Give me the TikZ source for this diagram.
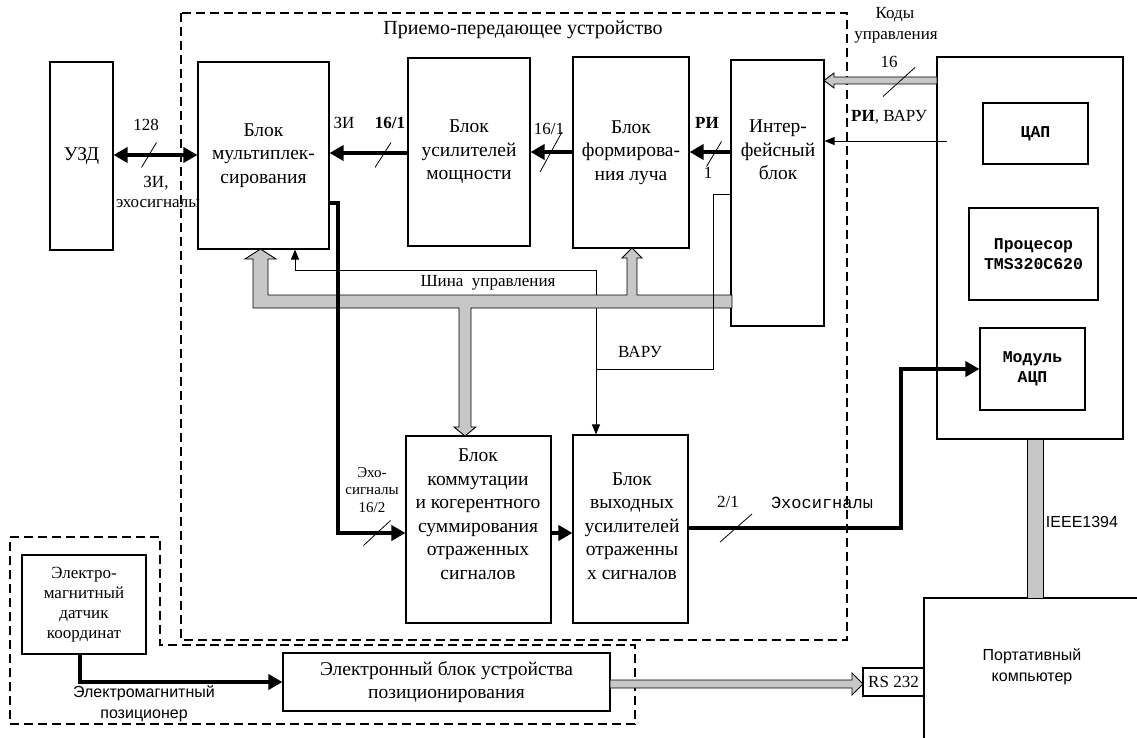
\documentclass[tikz,border=0pt]{standalone}
\usepackage{fontspec}
\setmainfont{Liberation Serif}
\setsansfont{Liberation Sans}
\setmonofont{Liberation Mono}
\usetikzlibrary{arrows.meta,calc}
\newcommand\fBig{\fontsize{19.5}{23.5}\selectfont}
\newcommand\fMid{\fontsize{17}{20}\selectfont}
\newcommand\fLab{\fontsize{17}{19}\selectfont}
\newcommand\fSmall{\fontsize{15}{17.5}\selectfont}
\newcommand\fTitle{\fontsize{20}{22}\selectfont}
\newcommand\fSans{\sffamily\fontsize{16}{21}\selectfont}
\newcommand\fMono{\ttfamily\bfseries\fontsize{16.5}{19.5}\selectfont}
\newcommand\fMonoL{\ttfamily\fontsize{17}{19}\selectfont}
\newcommand\slsh[4]{\draw[slashln] (#1-#3,#2+#4) -- (#1+#3,#2-#4);}
\begin{document}
\begin{tikzpicture}[x=1pt,y=-1pt,
  box/.style={draw, line width=1.1pt, inner sep=0pt, align=center},
  txt/.style={inner sep=0pt, align=center},
  thk/.style={line width=4pt, -{Triangle[length=14pt,width=15pt]}},
  thkline/.style={line width=4pt},
  thn/.style={line width=0.9pt, -{Triangle[length=10pt,width=8pt]}},
  thnline/.style={line width=0.9pt},
  busfill/.style={draw, line width=0.9pt, fill=black!22},
  slashln/.style={line width=0.8pt},
  frame/.style={line width=1.3pt, dash pattern=on 9pt off 5pt}]

\useasboundingbox (0,0) rectangle (1137,738);

% dashed frames
\draw[frame] (181,13) rectangle (847,640);
\draw[frame] (10,537) -- (160,537) -- (160,645) -- (635,645) -- (635,724) -- (10,724) -- cycle;

% blocks
\node[box, font=\fBig, minimum width=63pt, minimum height=188pt] (uzd) at (81.5,156) {УЗД};
\node[box, font=\fBig, minimum width=131pt, minimum height=187pt] (mux) at (263.5,155.5) {Блок\\мультиплек-\\сирования};
\node[box, font=\fBig, minimum width=122pt, minimum height=188pt] (usil) at (469,152) {Блок\\усилителей\\мощности};
\node[box, font=\fBig, minimum width=116pt, minimum height=191pt] (form) at (631,152.5) {Блок\\формирова-\\ния луча};
\node[box, minimum width=93pt, minimum height=266pt] (intf) at (777.5,193) {};
\node[txt, font=\fBig] (intfT) at (778,150) {Интер-\\фейсный\\блок};
\node[box, minimum width=186pt, minimum height=382pt] (board) at (1030,248) {};
\node[box, font=\fMono, minimum width=105pt, minimum height=61pt] (dac) at (1035.5,133.5) {ЦАП};
\node[box, font=\fMono, minimum width=129pt, minimum height=92pt] (cpu) at (1033.5,254) {Процесор\\TMS320C620};
\node[box, font=\fMono, minimum width=105pt, minimum height=82pt] (adc) at (1032.5,369) {Модуль\\АЦП};
\node[box, minimum width=145pt, minimum height=187pt] (comm) at (478.5,529.5) {};
\node[txt, font=\fBig] (commT) at (478,514) {Блок\\коммутации\\и когерентного\\суммирования\\отраженных\\сигналов};
\node[box, minimum width=115pt, minimum height=188pt] (outp) at (630.5,529) {};
\node[txt, font=\fBig] (outpT) at (632,526) {Блок\\выходных\\усилителей\\отраженны\\х сигналов};
\node[box, font=\fMid, minimum width=124pt, minimum height=99pt] (sens) at (84,604.5) {Электро-\\магнитный\\датчик\\координат};
\node[box, font=\fBig, minimum width=327pt, minimum height=58pt] (elec) at (446.5,682) {Электронный блок устройства\\позиционирования};
\node[box, font=\fLab, minimum width=61pt, minimum height=28pt] (rs) at (893.5,682) {RS 232};
\node[box, minimum width=232pt, minimum height=170pt] (pc) at (1040,683) {};
\node[txt, font=\fSans] (pcT) at (1032,667) {Портативный\\компьютер};

% helper coordinates
\coordinate (yA) at (0,155);
\coordinate (yB) at (0,153);
\coordinate (yC) at (0,152);
\coordinate (yE) at (0,203);
\coordinate (xE) at (338,0);
\coordinate (yF) at (0,533);
\coordinate (yG) at (0,528);
\coordinate (xG) at (901,0);
\coordinate (xM) at (295,0);
\coordinate (yM) at (0,270);
\coordinate (xO) at (596,0);
\coordinate (yV) at (0,194);
\coordinate (xV) at (713,0);
\coordinate (yW) at (0,369);
\coordinate (xR) at (947,0);
\coordinate (yR) at (0,141);
\coordinate (xS) at (80,0);

% thin control lines (under the bus)
\draw[thn] (xO |- yM) -- (xO |- outp.north);
\draw[thn] (xO |- yM) -| (xM |- mux.south);

% control bus
\draw[busfill] (253,308) -- (253,259) -- (245,259) -- (260.5,249) -- (276,259) -- (268,259) -- (268,295)
  -- (627,295) -- (627,258) -- (622,258) -- (632,248) -- (642,258) -- (637,258) -- (637,295)
  -- (732,295) -- (732,308) -- (471,308) -- (471,427) -- (476,427) -- (465,436) -- (454,427)
  -- (459,427) -- (459,308) -- cycle;
% codes bus
\draw[busfill] (937,77) -- (834,77) -- (834,73) -- (824,80.5) -- (834,88) -- (834,84) -- (937,84) -- cycle;
% RS232 bus
\draw[busfill] (610,680) -- (852,680) -- (852,673) -- (863,684) -- (852,695) -- (852,688) -- (610,688) -- cycle;
% IEEE1394 bus
\draw[busfill] (1027,439) rectangle (1043,598);

% VARU line
\draw[thnline] (intf.west |- yV) -| (xV |- yW) -- (xO |- yW);
% RI, VARU
\draw[thn] (xR |- yR) -- (intf.east |- yR);

% thick connectors
\draw[line width=4pt, {Triangle[length=14pt,width=15pt]}-{Triangle[length=14pt,width=15pt]}] (uzd.east |- yA) -- (mux.west |- yA);
\draw[thk] (usil.west |- yB) -- (mux.east |- yB);
\draw[thk] (form.west |- yC) -- (usil.east |- yC);
\draw[thk] (intf.west |- yC) -- (form.east |- yC);
\draw[thk] (mux.east |- yE) -| (xE |- yF) -- (comm.west |- yF);
\draw[thk] (comm.east |- yF) -- (outp.west |- yF);
\draw[thk] (outp.east |- yG) -| (xG |- adc.west) -- (adc.west);
\draw[thk] (xS |- sens.south) |- (elec.west);

% slashes
\slsh{149}{155}{7.5}{12.5}
\slsh{383}{155}{8}{12.5}
\slsh{551}{152}{11}{20}
\slsh{714}{154}{7.5}{12.5}
\slsh{899}{82}{16}{14.5}
\slsh{377}{533}{13.5}{12.5}
\slsh{736}{528}{16}{14}

% labels
\node[txt, font=\fTitle] (title) at (523,30) {Приемо-передающее устройство};
\node[txt, font=\fLab] (l128) at (146,125) {128};
\node[txt, font=\fLab] (lzi) at (156,183) {ЗИ,};
\node[txt, font=\fLab] (lecho) at (158,204) {эхосигналы};
\node[txt, font=\fLab] (lzi2) at (344,123) {ЗИ};
\node[txt, font=\fLab\bfseries] (l161) at (390,123) {16/1};
\node[txt, font=\fLab] (l162) at (549,129) {16/1};
\node[txt, font=\fLab\bfseries] (lri) at (707,123) {РИ};
\node[txt, font=\fLab] (l1) at (708,173) {1};
\node[txt, font=\fLab] (lk1) at (895,15) {Коды};
\node[txt, font=\fLab] (lk2) at (896,37) {управления};
\node[txt, font=\fLab] (lk3) at (889,62) {16};
\node[txt, font=\fLab] (lriv) at (889,117) {\textbf{РИ}, ВАРУ};
\node[txt, font=\fMid] (lshina) at (488,283) {Шина\ \ управления};
\node[txt, font=\fLab] (lvaru) at (640,352) {ВАРУ};
\node[txt, font=\fSmall] (le1) at (372,490) {Эхо-\\сигналы\\16/2};
\node[txt, font=\fLab] (l21) at (728,502) {2/1};
\node[txt, font=\fMonoL] (lecho2) at (822,503) {Эхосигналы};
\node[txt, font=\fSans] (lpos) at (144,704) {Электромагнитный\\позиционер};
\node[txt, font=\fSans] (lieee) at (1082,522) {IEEE1394};
\end{tikzpicture}
\end{document}
